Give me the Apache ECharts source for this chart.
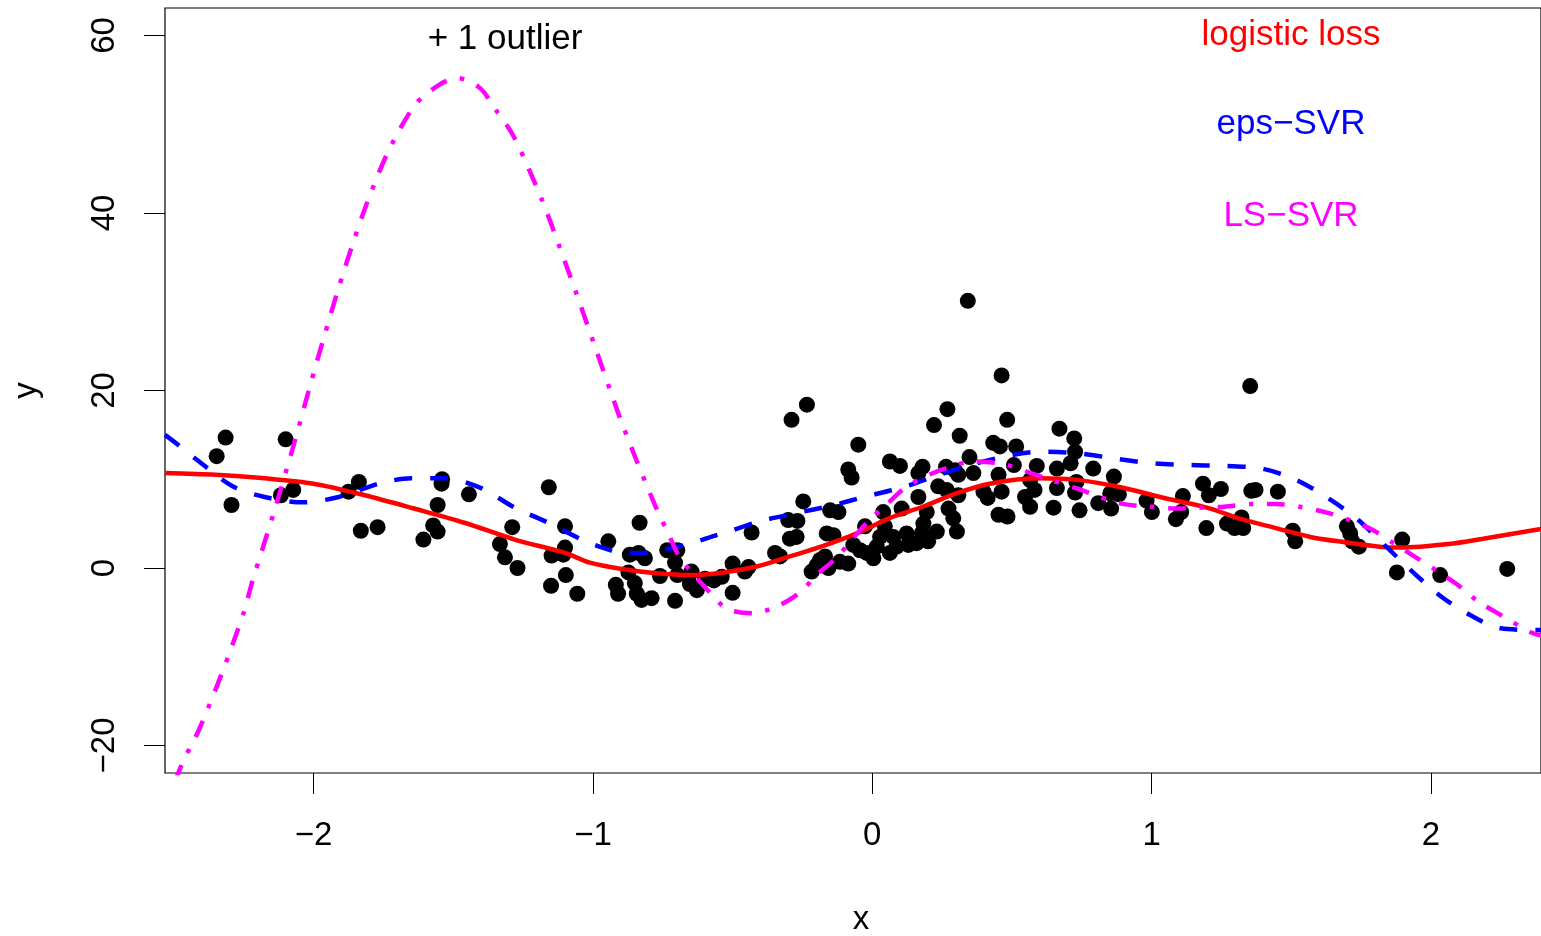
<!DOCTYPE html>
<html>
<head>
<meta charset="utf-8">
<script src="https://cdn.jsdelivr.net/npm/echarts@6/dist/echarts.min.js"></script>
<style>
html, body { margin: 0; padding: 0; background: #fff; }
#chart { width: 1541px; height: 936px; }
</style>
</head>
<body>
<div id="chart"></div>
<script>
// tick labels
const xTicks = [-2, -1, 0, 1, 2];
const yTicks = [-20, 0, 20, 40, 60];

// observed sample (x, y)
const samplePoints = [
  [-2.315,14.7],[-2.347,12.6],[-2.294,7.1],[-2.100,14.5],[-2.117,8.2],[-2.073,8.8],
  [-1.838,9.7],[-1.875,8.6],[-1.831,4.2],[-1.771,4.6],[-1.540,10.0],[-1.542,9.5],
  [-1.556,7.1],[-1.572,4.8],[-1.556,4.1],[-1.607,3.2],[-1.444,8.3],[-1.158,9.1],
  [-1.289,4.6],[-1.333,2.7],[-1.315,1.2],[-1.270,0.0],[-1.100,4.7],[-1.100,2.3],
  [-1.148,1.4],[-1.106,1.5],[-1.097,-0.8],[-1.150,-2.0],[-1.056,-2.9],
  [-0.833,5.1],[-0.945,3.0],[-0.868,1.5],[-0.837,1.7],[-0.814,1.1],[-0.734,2.0],
  [-0.698,2.0],[-0.706,0.6],[-0.873,-0.5],[-0.850,-1.7],[-0.918,-1.9],[-0.910,-2.9],
  [-0.843,-2.9],[-0.826,-3.6],[-0.790,-3.4],[-0.706,-3.7],[-0.760,-0.9],[-0.698,-0.8],
  [-0.647,-0.4],[-0.653,-1.8],[-0.628,-2.5],[-0.599,-1.2],[-0.567,-1.4],[-0.539,-1.0],
  [-0.500,0.5],[-0.500,-2.8],
  [-0.234,18.4],[-0.289,16.7],[-0.050,13.9],[-0.086,11.1],[-0.074,10.2],[-0.247,7.5],
  [-0.301,5.4],[-0.268,5.3],[-0.151,6.5],[-0.121,6.3],[-0.432,4.0],[-0.295,3.3],
  [-0.271,3.5],[-0.163,3.9],[-0.139,3.7],[-0.348,1.7],[-0.330,1.3],[-0.443,0.1],
  [-0.456,-0.4],[-0.217,-0.4],[-0.187,0.9],[-0.169,1.3],[-0.199,0.3],[-0.157,0.0],
  [-0.116,0.7],[-0.086,0.5],[-0.068,2.6],[-0.026,4.7],[-0.044,2.0],[-0.020,1.7],
  [0.004,1.1],[0.016,2.4],[0.028,3.5],[0.039,6.3],[0.045,4.7],
  [0.463,21.7],[0.342,30.1],[0.269,17.9],[0.221,16.1],[0.483,16.7],[0.313,14.9],
  [0.433,14.1],[0.457,13.7],[0.515,13.7],[0.348,12.5],[0.063,12.0],[0.099,11.5],
  [0.180,11.4],[0.165,10.7],[0.264,11.4],[0.296,11.0],[0.308,10.5],[0.362,10.7],
  [0.507,11.6],[0.452,10.5],[0.589,11.5],[0.565,9.9],[0.236,9.2],[0.266,8.8],
  [0.308,8.2],[0.398,8.6],[0.413,7.9],[0.463,8.6],[0.547,8.0],[0.565,6.9],
  [0.165,8.0],[0.105,6.7],[0.195,6.3],[0.273,6.7],[0.290,5.6],[0.303,4.1],
  [0.452,6.0],[0.484,5.8],[0.183,5.0],[0.231,4.1],[0.177,3.9],[0.075,3.5],
  [0.123,3.9],[0.129,2.6],[0.159,2.8],[0.200,3.0],[0.063,1.7],[0.087,2.4],
  [0.670,15.7],[0.723,14.6],[0.726,13.1],[0.710,11.8],[0.661,11.2],[0.791,11.2],
  [0.865,10.3],[0.731,9.7],[0.661,9.0],[0.581,8.8],[0.726,8.5],[0.883,8.3],
  [0.852,8.4],[0.649,6.8],[0.742,6.5],[0.809,7.3],[0.855,6.7],
  [0.982,7.6],[1.001,6.3],[1.112,8.1],[1.087,5.5],[1.106,6.3],[1.184,9.5],
  [1.205,8.2],[1.248,8.9],[1.196,4.5],[1.270,5.0],[1.322,5.7],[1.328,4.5],
  [1.297,4.5],[1.353,20.5],[1.357,8.7],[1.372,8.8],[1.452,8.6],[1.505,4.2],
  [1.514,3.0],[1.699,4.7],[1.711,3.9],[1.718,3.0],[1.742,2.4],[1.897,3.2],
  [1.878,-0.5],[2.033,-0.8],[2.273,-0.1]
];

// fitted curves
const logisticLoss = [
  [-2.532,10.7],[-2.35,10.5],[-2.175,10.1],[-2.0,9.5],[-1.817,8.2],[-1.64,6.7],
  [-1.46,5.1],[-1.28,3.2],[-1.10,1.7],[-1.011,0.6],[-0.89,-0.15],[-0.772,-0.6],
  [-0.653,-0.8],[-0.533,-0.5],[-0.41,0.2],[-0.295,1.3],[-0.175,2.5],[-0.055,3.9],
  [0.06,5.6],[0.18,6.9],[0.30,8.4],[0.42,9.5],[0.6,10.1],[0.74,9.9],
  [0.89,9.1],[1.03,8.0],[1.198,6.8],[1.322,5.5],[1.445,4.5],[1.568,3.5],
  [1.692,2.9],[1.815,2.4],[1.889,2.3],[2.063,2.7],[2.187,3.3],[2.394,4.4]
];

const epsSVR = [
  [-2.532,15.0],[-2.49,14.0],[-2.41,12.0],[-2.29,9.2],[-2.175,8.0],[-2.04,7.4],
  [-1.91,8.0],[-1.756,9.6],[-1.65,10.1],[-1.53,10.1],[-1.40,9.0],[-1.28,6.8],
  [-1.16,5.1],[-1.04,3.2],[-0.957,2.2],[-0.897,1.7],[-0.826,1.7],[-0.766,1.95],
  [-0.698,2.4],[-0.64,2.85],[-0.569,3.6],[-0.515,4.1],[-0.41,5.2],[-0.27,6.2],
  [-0.15,7.0],[-0.03,8.0],[0.11,9.1],[0.24,10.5],[0.35,11.6],[0.48,12.6],
  [0.60,13.1],[0.74,12.9],[0.877,12.3],[1.0,11.8],[1.137,11.6],[1.26,11.5],
  [1.395,11.2],[1.52,9.9],[1.64,7.7],[1.74,5.4],[1.84,2.4],[1.94,-0.6],
  [2.04,-3.3],[2.14,-5.3],[2.25,-6.8],[2.394,-7.0]
];

const lsSVR = [
  [-2.52,-26],[-2.47,-22],[-2.41,-18.2],[-2.33,-12.0],[-2.25,-5.0],[-2.22,-1.6],
  [-2.14,6.5],[-2.07,14.0],[-2.013,20.5],[-1.963,26.0],[-1.912,31.4],[-1.856,36.9],
  [-1.796,42.2],[-1.724,47.5],[-1.631,52.4],[-1.542,54.6],[-1.486,55.2],[-1.405,54.1],
  [-1.350,51.7],[-1.285,48.7],[-1.184,41.6],[-1.121,36.3],[-1.059,30.9],[-0.999,25.5],
  [-0.939,20.1],[-0.903,16.9],[-0.845,12.2],[-0.77,6.5],[-0.735,4.2],[-0.69,1.2],
  [-0.64,-0.7],[-0.58,-2.8],[-0.52,-4.6],[-0.43,-5.1],[-0.34,-4.3],[-0.26,-2.8],
  [-0.20,-0.8],[-0.13,1.1],[-0.07,3.3],[-0.01,5.4],[0.056,7.3],[0.12,9.1],
  [0.21,10.6],[0.28,11.4],[0.36,12.0],[0.47,11.7],[0.557,10.8],[0.64,9.9],
  [0.73,9.0],[0.815,8.0],[0.90,7.2],[1.0,6.9],[1.087,6.7],[1.17,6.8],
  [1.26,6.9],[1.36,7.2],[1.445,7.2],[1.53,6.9],[1.62,6.3],[1.70,5.5],
  [1.79,4.3],[1.865,2.8],[1.946,1.2],[2.03,-0.5],[2.10,-2.0],[2.17,-3.8],
  [2.25,-5.3],[2.355,-7.2],[2.394,-7.6]
];

const FONT = '"Liberation Sans", Arial, Helvetica, sans-serif';
const minus = v => String(v).replace('-', '\u2212');

var myChart = echarts.init(document.getElementById('chart'));
var option = {
    animation: false,
    backgroundColor: '#fff',
    grid: {
        left: 165, right: 0, top: 8, bottom: 163,
        outerBoundsMode: 'none',
        containLabel: false,
        show: true, borderColor: '#000', borderWidth: 1.2,
        backgroundColor: 'transparent'
    },
    xAxis: {
        type: 'value',
        min: -2.532,
        max: 2.394,
        name: 'x',
        nameLocation: 'middle',
        nameGap: 130,
        nameTextStyle: { fontSize: 33, fontFamily: FONT, color: '#000', padding: [0, 0, 0, 16] },
        axisLine: { show: false, onZero: false },
        splitLine: { show: false },
        axisTick: { show: true, length: 21, customValues: xTicks, lineStyle: { color: '#000', width: 1 } },
        axisLabel: { customValues: xTicks, formatter: minus, margin: 46, fontSize: 33, fontFamily: FONT, color: '#000' }
    },
    yAxis: {
        type: 'value',
        min: -23.1,
        max: 63.1,
        name: 'y',
        nameLocation: 'middle',
        nameGap: 122,
        nameTextStyle: { fontSize: 33, fontFamily: FONT, color: '#000' },
        axisLine: { show: false, onZero: false },
        splitLine: { show: false },
        axisTick: { show: true, length: 21, customValues: yTicks, lineStyle: { color: '#000', width: 1 } },
        axisLabel: { customValues: yTicks, formatter: minus, rotate: 90, margin: 44, fontSize: 33, fontFamily: FONT, color: '#000' }
    },
    graphic: [
        { type: 'text', x: 505, y: 39, style: { text: '+ 1 outlier', fill: '#000', font: '35px ' + FONT, align: 'center', verticalAlign: 'middle' } },
        { type: 'text', x: 1291, y: 35, style: { text: 'logistic loss', fill: '#ff0000', font: '35px ' + FONT, align: 'center', verticalAlign: 'middle' } },
        { type: 'text', x: 1291, y: 124, style: { text: 'eps\u2212SVR', fill: '#0000ff', font: '35px ' + FONT, align: 'center', verticalAlign: 'middle' } },
        { type: 'text', x: 1291, y: 216, style: { text: 'LS\u2212SVR', fill: '#ff00ff', font: '35px ' + FONT, align: 'center', verticalAlign: 'middle' } }
    ],
    series: [
        {
            name: 'data',
            type: 'scatter',
            data: samplePoints,
            symbol: 'circle',
            symbolSize: 16,
            itemStyle: { color: '#000', opacity: 1 },
            z: 2
        },
        {
            name: 'logistic loss',
            type: 'line',
            data: logisticLoss,
            showSymbol: false,
            smooth: 0.3,
            lineStyle: { color: '#ff0000', width: 4.5 },
            z: 3
        },
        {
            name: 'eps-SVR',
            type: 'line',
            data: epsSVR,
            showSymbol: false,
            smooth: 0.3,
            lineStyle: { color: '#0000ff', width: 4.5, type: [18, 18] },
            z: 3
        },
        {
            name: 'LS-SVR',
            type: 'line',
            data: lsSVR,
            showSymbol: false,
            smooth: 0.3,
            lineStyle: { color: '#ff00ff', width: 4.5, type: [4.5, 13.5, 18, 13.5] },
            z: 3
        }
    ]
};
myChart.setOption(option);
</script>
</body>
</html>
